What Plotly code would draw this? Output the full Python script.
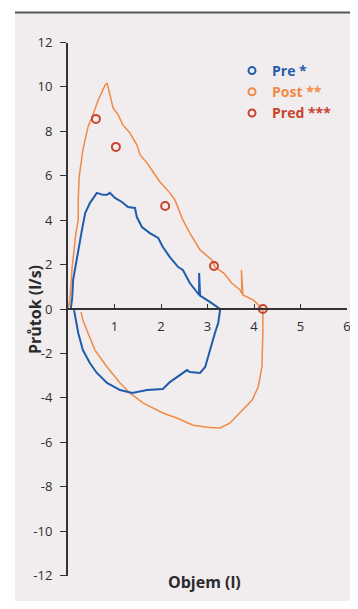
import plotly.graph_objects as go

# Post (orange) flow-volume loop: volume (l), flow (l/s)
post_x = [0.00, 0.04, 0.09, 0.17, 0.22, 0.22, 0.24, 0.32, 0.43, 0.52, 0.65, 0.80, 0.84,
          0.90, 0.97, 1.08, 1.18, 1.33, 1.48, 1.55, 1.70, 1.83, 1.98, 2.19, 2.30, 2.47,
          2.62, 2.84, 3.10, 3.16, 3.35, 3.52, 3.70, 3.74, 3.73, 3.76, 3.98, 4.19,
          4.19, 4.19, 4.17, 4.09, 3.96, 3.70, 3.48, 3.27, 2.99, 2.69, 2.34, 2.04, 1.76,
          1.61, 1.33, 1.12, 0.84, 0.58, 0.43, 0.32, 0.28]
post_y = [0.00, 0.41, 1.89, 3.42, 4.01, 4.91, 5.95, 7.16, 8.20, 8.65, 9.41, 10.09, 10.18,
          9.64, 9.05, 8.74, 8.29, 7.93, 7.39, 6.94, 6.58, 6.17, 5.72, 5.23, 4.91, 4.01,
          3.42, 2.66, 2.20, 1.89, 1.62, 1.17, 0.86, 0.70, 1.76, 0.63, 0.41, 0.00,
          -0.05, -1.08, -2.61, -3.51, -4.10, -4.68, -5.14, -5.36, -5.32, -5.23, -4.91, -4.68, -4.41,
          -4.23, -3.78, -3.33, -2.61, -1.85, -1.08, -0.50, -0.14]

# Pre (blue) flow-volume loop
pre_x = [0.06, 0.09, 0.11, 0.17, 0.24, 0.30, 0.37, 0.47, 0.62, 0.75, 0.84, 0.90, 1.01,
         1.16, 1.29, 1.44, 1.48, 1.59, 1.76, 1.94, 2.04, 2.19, 2.37, 2.47, 2.62, 2.82,
         2.82, 2.84, 3.05, 3.27,
         3.27, 3.23, 3.16, 3.05, 2.95, 2.84, 2.62, 2.56, 2.34, 2.19, 2.04, 1.76, 1.70,
         1.38, 1.12, 0.84, 0.62, 0.47, 0.32, 0.22, 0.15, 0.13]
pre_y = [0.00, 0.50, 1.31, 2.07, 2.79, 3.56, 4.32, 4.77, 5.23, 5.14, 5.14, 5.23, 5.00,
         4.82, 4.59, 4.55, 4.14, 3.69, 3.42, 3.20, 2.79, 2.34, 1.89, 1.76, 1.17, 0.63,
         1.62, 0.60, 0.32, 0.00,
         -0.05, -0.63, -1.08, -1.85, -2.61, -2.88, -2.84, -2.75, -3.06, -3.29, -3.60, -3.65, -3.65,
         -3.78, -3.65, -3.33, -2.88, -2.43, -1.85, -1.08, -0.36, -0.05]

# Predicted values (red open circles)
pred_x = [0.60, 1.03, 2.09, 3.14, 4.19]
pred_y = [8.56, 7.30, 4.64, 1.94, 0.00]

y_ticks = [-12, -10, -8, -6, -4, -2, 0, 2, 4, 6, 8, 10, 12]
y_ticktext = [str(v) for v in y_ticks]
x_ticks = [1, 2, 3, 4, 5, 6]
x_ticktext = [str(v) for v in x_ticks]

BLUE = "#1f5cab"
ORANGE = "#f08a45"
RED = "#c8442c"

# page body has an 8px margin; figure sized so the page fits the 358x609 window
OFF = 8
W, H = 358 - OFF, 609 - 2 * OFF


def fx(px):
    return (px - OFF) / W


def fy(py):
    return 1 - (py - OFF) / H


fig = go.Figure()
fig.add_trace(go.Scatter(x=post_x, y=post_y, mode="lines",
                         line=dict(color=ORANGE, width=1.5), showlegend=False))
fig.add_trace(go.Scatter(x=pre_x, y=pre_y, mode="lines",
                         line=dict(color=BLUE, width=2), showlegend=False))
fig.add_trace(go.Scatter(x=pred_x, y=pred_y, mode="markers",
                         marker=dict(symbol="circle-open", size=8, color=RED,
                                     line=dict(width=2, color=RED)),
                         showlegend=False))
# legend entries
for name, col in [("Pre *", BLUE), ("Post **", ORANGE), ("Pred ***", RED)]:
    fig.add_trace(go.Scatter(x=[None], y=[None], mode="markers",
                             name=f"<span style='color:{col}'><b>{name}</b></span>",
                             marker=dict(symbol="circle-open", size=7, color=col,
                                         line=dict(width=2, color=col))))

fig.update_layout(
    width=W, height=H,
    margin=dict(l=0, r=0, t=0, b=0, autoexpand=False),
    paper_bgcolor="white",
    plot_bgcolor="rgba(0,0,0,0)",
    font=dict(family="Open Sans", size=13, color="#2e2e2e"),
    legend=dict(x=fx(232), y=fy(55), xanchor="left", yanchor="top",
                bgcolor="rgba(0,0,0,0)", font=dict(size=14), tracegroupgap=0),
    xaxis=dict(domain=[fx(68), fx(347)], range=[0, 6], anchor="free",
               position=fy(309), showline=True, linecolor="#333", linewidth=1.5,
               ticks="inside", ticklen=4, tickcolor="#333", tickvals=x_ticks,
               ticktext=x_ticktext, showgrid=False, zeroline=False, automargin=False,
               ticklabelstandoff=6),
    yaxis=dict(domain=[fy(575.5), fy(42.5)], range=[-12, 12],
               showline=True, linecolor="#333", linewidth=2,
               ticks="outside", ticklen=6, tickcolor="#333", tickvals=y_ticks,
               ticktext=y_ticktext, showgrid=False, zeroline=False, automargin=False,
               ticklabelstandoff=5),
    shapes=[
        dict(type="rect", xref="paper", yref="paper", x0=fx(15), x1=1, y0=0,
             y1=fy(12), fillcolor="#f1ecee", line=dict(width=0), layer="below"),
        dict(type="line", xref="paper", yref="paper", x0=fx(15), x1=1, y0=fy(12.5),
             y1=fy(12.5), line=dict(color="#555", width=2), layer="below"),
    ],
    annotations=[
        dict(text="<b>Průtok (l/s)</b>", xref="paper", yref="paper", x=fx(35), y=fy(310),
             textangle=-90, showarrow=False, font=dict(size=16, color="#2a2a2a"),
             xanchor="center", yanchor="middle"),
        dict(text="<b>Objem (l)</b>", xref="paper", yref="paper", x=fx(204), y=fy(582),
             showarrow=False, font=dict(size=16, color="#2a2a2a"),
             xanchor="center", yanchor="middle"),
    ],
)
fig.write_html("out.html")
